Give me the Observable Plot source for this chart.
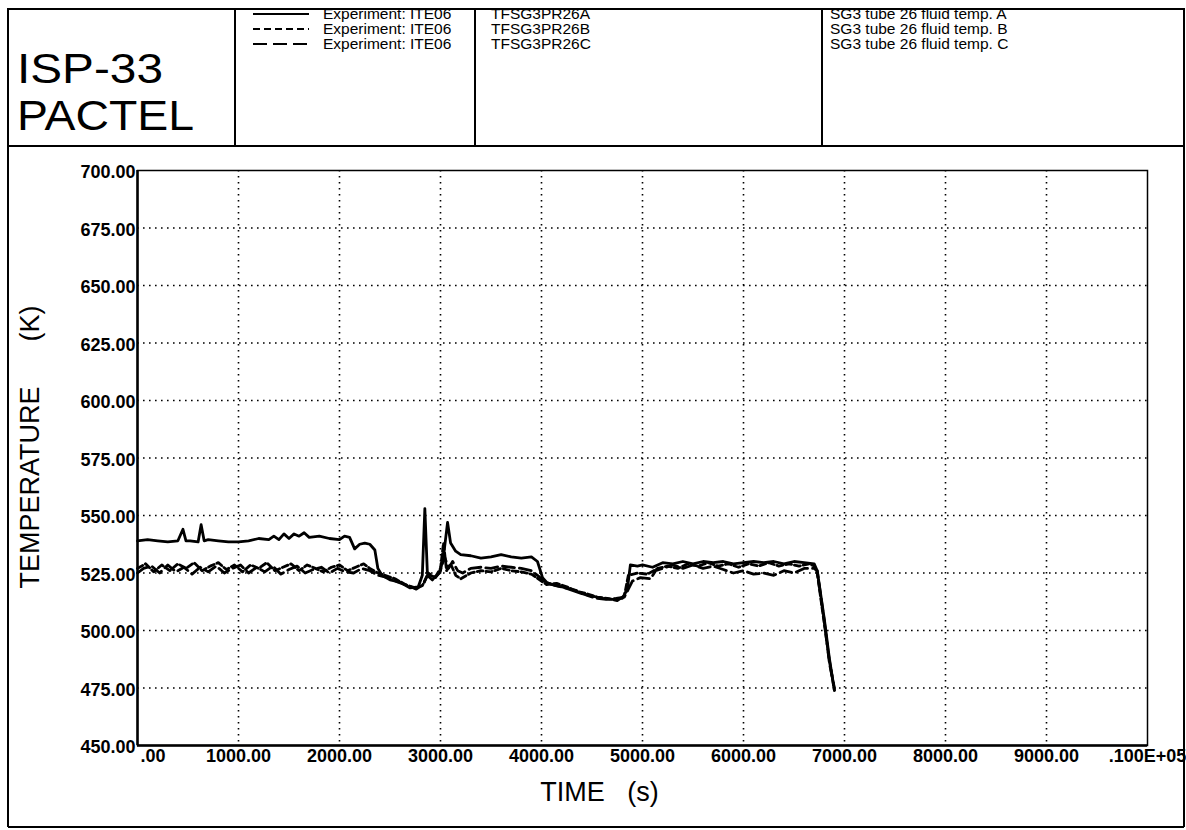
<!DOCTYPE html>
<html>
<head>
<meta charset="utf-8">
<script src="https://cdn.jsdelivr.net/npm/d3@7"></script>
<script src="https://cdn.jsdelivr.net/npm/@observablehq/plot@0.6"></script>
<style>
  html, body { margin: 0; padding: 0; background: #fff; }
  #wrap { position: relative; width: 1186px; height: 830px; overflow: hidden; font-family: "Liberation Sans", Arial, Helvetica, sans-serif; }
  #bg { position: absolute; left: 0; top: 0; }
  #chart { position: absolute; left: 0; top: 146px; }
</style>
</head>
<body>
<div id="wrap">
  <svg id="bg" width="1186" height="830" xmlns="http://www.w3.org/2000/svg" font-family="Liberation Sans, Arial, Helvetica, sans-serif">
    <rect x="8" y="9" width="1176" height="137" fill="none" stroke="#000" stroke-width="2"/>
    <line x1="235" y1="9" x2="235" y2="146" stroke="#000" stroke-width="2"/>
    <line x1="475" y1="9" x2="475" y2="146" stroke="#000" stroke-width="2"/>
    <line x1="822" y1="9" x2="822" y2="146" stroke="#000" stroke-width="2"/>
    <line x1="8" y1="146" x2="8" y2="827" stroke="#000" stroke-width="2"/>
    <line x1="1184" y1="146" x2="1184" y2="827" stroke="#000" stroke-width="2"/>
    <line x1="8" y1="827" x2="1184" y2="827" stroke="#000" stroke-width="2"/>
    <g id="headtext"></g>
  </svg>
  <div id="chart"></div>
</div>
<script>
// ---------- header texts ----------
const titleLines = ["ISP-33", "PACTEL"];
const legendNames = ["Experiment: ITE06", "Experiment: ITE06", "Experiment: ITE06"];
const legendIds = ["TFSG3PR26A", "TFSG3PR26B", "TFSG3PR26C"];
const legendDescr = ["SG3 tube 26 fluid temp. A", "SG3 tube 26 fluid temp. B", "SG3 tube 26 fluid temp. C"];

// ---------- axes ----------
const xTicks = [0, 1000, 2000, 3000, 4000, 5000, 6000, 7000, 8000, 9000, 10000];
const xTickLabels = [".00", "1000.00", "2000.00", "3000.00", "4000.00", "5000.00", "6000.00", "7000.00", "8000.00", "9000.00", ".100E+05"];
const yTicks = [450, 475, 500, 525, 550, 575, 600, 625, 650, 675, 700];
const xGrid = [1000, 2000, 3000, 4000, 5000, 6000, 7000, 8000, 9000];
const yGrid = [475, 500, 525, 550, 575, 600, 625, 650, 675];
const xLabel = "TIME\u00a0\u00a0\u00a0(s)";
const yLabel = "TEMPERATURE\u00a0\u00a0\u00a0\u00a0\u00a0\u00a0(K)";

// ---------- series A (solid) ----------
const timeA = [0,100,200,300,400,450,480,520,600,630,660,700,800,900,1000,1100,1200,1300,1350,1400,1450,1500,1550,1600,1650,1700,1800,1900,2000,2050,2100,2150,2200,2250,2300,2350,2380,2420,2500,2600,2700,2780,2820,2845,2870,2900,2950,3000,3040,3070,3100,3150,3200,3300,3400,3500,3600,3700,3800,3900,3960,4010,4050,4100,4200,4300,4400,4500,4600,4700,4800,4850,4880,4950,5000,5100,5200,5300,5400,5500,5600,5700,5800,5900,6000,6100,6200,6300,6400,6500,6600,6700,6730,6800,6850,6900];
const tempA = [539,539.5,539,538.5,539,544,539,539,538.5,546,539,539.5,539,538.5,538.5,539,540,539.5,541,539.5,542,540,542,541,542.5,540.5,541,540,539.5,541,540.5,535.5,537.5,538,537.5,535,527,524,522,521,518.5,519,524,553,525,524,523,526,536,547,538,534.5,533,532.5,531.5,532,533,532,531.5,532,530,523,521,520,519,517.5,516,515,514,513.5,514,518,528.5,528,528.5,527.5,529.5,529,530,529,530,529.5,530,529,529.5,530,529.5,530,529,530,529.5,529,526,505,488,474];

// ---------- series B (short dash) ----------
const timeB = [0,80,160,240,320,400,480,560,640,720,800,880,960,1040,1120,1200,1280,1360,1440,1520,1600,1680,1760,1840,1920,2000,2080,2160,2240,2300,2380,2450,2550,2650,2750,2820,2870,2920,2960,3000,3030,3060,3100,3150,3200,3300,3400,3500,3600,3700,3800,3900,3950,4050,4150,4250,4350,4450,4550,4650,4750,4820,4860,4950,5050,5150,5250,5350,5450,5550,5650,5750,5850,5950,6050,6150,6250,6350,6450,6550,6650,6700,6730,6800,6850,6900];
const tempB = [527,529,525.5,528.5,526,529,527,529.5,526,528,529.5,526.5,528.5,525.5,528.5,527,529.5,526,527.5,529,526,528.5,527,525.5,527.5,528.5,526,527.5,529,527,525,524,522.5,520,518.5,519.5,524,522,524,527,538,526,529,524,522.5,525,526,525.5,527,526,525.5,524.5,523,520,520.5,519,517,516,514.5,514,513,515,524,525,524.5,527,528,527,529,528,529.5,528,529,527.5,529,528,529.5,528,529,528,529,528,525,503,487,474];

// ---------- series C (long dash) ----------
const timeC = [0,60,140,220,300,380,460,540,620,700,780,860,940,1020,1100,1180,1260,1340,1420,1500,1580,1660,1740,1820,1900,1980,2060,2140,2220,2300,2380,2480,2580,2680,2760,2830,2880,2940,2990,3040,3080,3120,3170,3220,3300,3400,3500,3600,3700,3800,3900,3960,4040,4140,4240,4340,4440,4540,4640,4740,4820,4860,4900,4980,5080,5130,5200,5300,5400,5500,5600,5700,5800,5900,6000,6100,6200,6300,6400,6500,6600,6700,6730,6800,6850,6900];
const tempC = [525,527,528,525,528.5,525.5,527.5,524.5,527.5,525.5,528,525,527,528.5,525,527.5,525.5,528,524.5,526.5,528,525,526.5,527.5,525,527,525.5,525,527,526,524,523,521,519.5,518,520,525,523,525,532,527,530,526,525,527,527.5,527,528,527.5,527,526,524,521,519.5,518.5,517.5,515.5,514,513.5,514,514.5,518,521.5,523,522.5,526,527,528.5,527,528.5,527,528,526.5,525,526,524.5,525,524,526,525,527,527,526,504,486,475];

const FONT = "Liberation Sans, Arial, Helvetica, sans-serif";

// header drawing
const ns = "http://www.w3.org/2000/svg";
const g = document.getElementById("headtext");
function addText(x, y, str, size, extra = {}) {
  const t = document.createElementNS(ns, "text");
  t.setAttribute("x", x); t.setAttribute("y", y);
  t.setAttribute("font-size", size);
  t.setAttribute("fill", "#000");
  for (const k in extra) t.setAttribute(k, extra[k]);
  t.textContent = str;
  g.appendChild(t);
}
function addLine(x1, y, x2, dash) {
  const l = document.createElementNS(ns, "line");
  l.setAttribute("x1", x1); l.setAttribute("x2", x2);
  l.setAttribute("y1", y); l.setAttribute("y2", y);
  l.setAttribute("stroke", "#000"); l.setAttribute("stroke-width", "2");
  if (dash) l.setAttribute("stroke-dasharray", dash);
  g.appendChild(l);
}
addText(17, 83, titleLines[0], 42, {"textLength": 146, "lengthAdjust": "spacingAndGlyphs"});
addText(17, 130, titleLines[1], 42, {"textLength": 177, "lengthAdjust": "spacingAndGlyphs"});
const rowBase = [19, 34, 49];
const legendDash = [null, "7,4", "14,6"];
rowBase.forEach((b, i) => {
  addLine(253, b - 5, 309, legendDash[i]);
  addText(323, b, legendNames[i], 15.5);
  addText(491, b, legendIds[i], 15.5);
  addText(830, b, legendDescr[i], 15.5);
});

// ---------- chart ----------
const rows = (t, v) => t.map((d, i) => ({t: d, v: v[i]}));
const dataA = rows(timeA, tempA);
const dataB = rows(timeB, tempB);
const dataC = rows(timeC, tempC);

const gridStyle = {stroke: "#000", strokeOpacity: 1, strokeWidth: 1.6, strokeDasharray: "1.6,4.4"};

const chart = Plot.plot({
  width: 1186,
  height: 684,
  marginLeft: 137,
  marginRight: 39,
  marginTop: 24,
  marginBottom: 85,
  style: {fontFamily: FONT, background: "transparent", color: "#000", overflow: "visible"},
  x: {domain: [0, 10000], axis: null},
  y: {domain: [450, 700], axis: null},
  marks: [
    Plot.gridX(xGrid, gridStyle),
    Plot.gridY(yGrid, gridStyle),
    Plot.frame({stroke: "#000", strokeWidth: 1.5}),
    Plot.ruleX([0], {stroke: "#000", strokeWidth: 2.5}),
    Plot.ruleY([450], {stroke: "#000", strokeWidth: 2.5}),
    Plot.text(yTicks, {y: d => d, text: d => d.toFixed(2), frameAnchor: "left", textAnchor: "end", dx: -2, dy: 2, fontSize: 18, fontWeight: "bold"}),
    Plot.text(xTicks.slice(1), {x: d => d, text: (d, i) => xTickLabels[i + 1], frameAnchor: "bottom", dy: 16, fontSize: 18, fontWeight: "bold"}),
    Plot.text(xTicks.slice(0, 1), {x: d => d, text: () => xTickLabels[0], frameAnchor: "bottom", textAnchor: "start", dx: 3, dy: 16, fontSize: 18, fontWeight: "bold"}),
    Plot.text([yLabel], {frameAnchor: "left", textAnchor: "middle", rotate: -90, dx: -107, dy: -11, fontSize: 27}),
    Plot.text([xLabel], {frameAnchor: "bottom", textAnchor: "middle", dx: -43, dy: 55, fontSize: 27}),
    Plot.line(dataC, {x: "t", y: "v", stroke: "#000", strokeWidth: 2.8, strokeDasharray: "12,5"}),
    Plot.line(dataB, {x: "t", y: "v", stroke: "#000", strokeWidth: 2.8, strokeDasharray: "6,3"}),
    Plot.line(dataA, {x: "t", y: "v", stroke: "#000", strokeWidth: 2.8})
  ]
});
document.getElementById("chart").appendChild(chart);
</script>
</body>
</html>
